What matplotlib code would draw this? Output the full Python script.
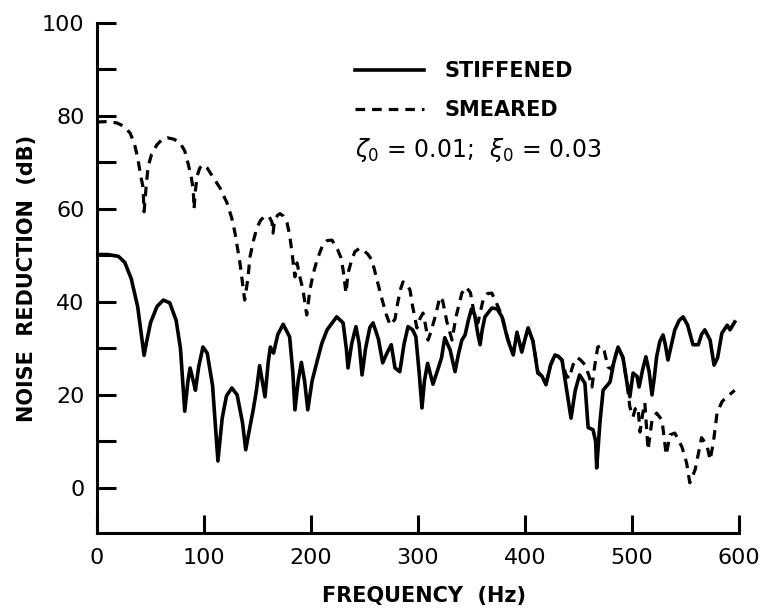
import matplotlib
matplotlib.use("Agg")
import matplotlib.pyplot as plt
from matplotlib.lines import Line2D

# ---- data ----
stiff_f = [0, 10, 20, 26, 32, 38, 42, 44, 46, 50, 56, 62, 68, 74, 78, 82, 85, 87, 90, 92, 95, 99, 103, 108,
           113, 117, 121, 126, 131, 136, 139, 142, 146, 149, 152, 157, 160, 162, 165, 169, 174, 180, 183, 185,
           188, 191, 194, 197, 201, 206, 210, 215, 224, 230, 233, 234.6, 238, 242, 245, 247.7, 251, 255, 258,
           263, 267, 271, 275, 278.5, 283, 287, 290.7, 295, 298, 301, 303.7, 306, 309, 314, 319, 322, 325, 330,
           334.6, 338, 341, 344, 347, 350, 353, 356, 358, 360, 362.6, 369, 374, 378.5, 384, 389, 392.5, 397,
           400, 403, 407.5, 412, 416, 419.6, 424, 428, 431, 434.6, 439, 443, 447, 451, 456, 459, 463.6, 466,
           467, 470, 473, 479.5, 483, 487, 491.6, 495, 498, 501, 504.7, 506.6, 510, 513, 516, 518.7, 521, 523,
           526, 529, 531, 533.6, 537, 540, 544, 547.7, 552, 557, 562, 565, 568, 573, 576.7, 580, 584, 589,
           591.6, 596]
stiff_db = [50.2, 50.2, 49.8, 48.5, 45, 39, 32, 28.5, 31, 35.5, 39, 40.4, 39.8, 36, 30, 16.5, 23, 25.8, 23, 21,
            26, 30.3, 29, 22, 5.8, 15, 19.8, 21.5, 20, 14, 8.2, 12, 16.8, 21, 26.3, 19.6, 27, 30.3, 29, 33, 35.2,
            32.5, 25, 16.8, 23, 27, 23, 16.8, 23, 27.5, 31, 34, 36.8, 35.5, 30, 25.8, 31, 34.7, 31, 24.3, 30,
            34.5, 35.5, 32, 26.9, 29, 30.8, 25.8, 25, 31, 34.7, 34, 32.5, 25, 17.2, 23, 26.8, 22.3, 25.8, 28,
            32.3, 29.7, 25, 29, 31.8, 32.9, 36, 38.5, 37.2, 33, 30.8, 34, 36.8, 38.7, 38.5, 36.8, 31.8, 28.6,
            33.5, 29.2, 32, 34.4, 31.5, 24.7, 24, 22.2, 26.5, 28.6, 28.3, 27.5, 21, 15, 21, 24.3, 22.5, 13,
            12.5, 10, 4.3, 14, 21, 22.8, 27, 30.3, 28, 23, 19.6, 24.7, 24, 21.7, 25.5, 28.2, 25, 20, 24, 28.2,
            31.5, 32.9, 31, 27.5, 31, 34, 36, 36.8, 35, 30.8, 30.8, 33, 34, 31.8, 26.4, 28, 33.3, 35, 34, 35.7]

smear_f = [0, 10, 18.7, 25, 31, 35, 38, 41, 43, 44, 46, 47.7, 51, 56, 61, 66, 72, 77.6, 82, 85, 88, 90, 90.7,
           92, 93.5, 96, 99, 103, 108, 115, 121.5, 126, 129, 133.6, 138, 141, 143, 146, 149.5, 153, 157, 161,
           163.5, 164.5, 166, 169, 171, 174, 177.6, 180, 182, 185, 187, 189, 192.5, 196, 199, 202, 205.6, 211,
           215, 219.6, 225, 228, 230, 232.7, 234.6, 238, 241, 245, 248.6, 253, 257, 261.7, 266, 270, 274,
           278.5, 281, 284, 286, 289, 292.5, 295, 299, 302, 304.7, 307, 309.4, 312, 316, 320.5, 323, 327,
           331.8, 335.5, 341, 345, 349, 353, 356, 360.8, 365, 369, 374, 378.5, 384, 389, 392.5, 397, 400, 403,
           407.5, 412, 416, 419.6, 424, 428, 431, 434.6, 438, 441, 445, 449, 452, 456, 460, 462.6, 465, 468,
           471, 474, 477.6, 481, 484, 487, 491.6, 495, 498, 501, 503, 505.6, 507.5, 510, 512, 515, 518.7, 523,
           528, 532, 535.5, 540, 546.7, 551, 554, 559, 565, 570, 573, 576, 579.5, 584, 588, 593, 596]
smear_db = [78.7, 78.8, 78.5, 77.8, 76.3, 74, 71, 67, 64.7, 59.4, 65, 69, 71.8, 73.8, 75, 75.3, 75, 74.2, 72.5,
            69.9, 67, 64, 60, 64, 67, 68.8, 69.5, 68.8, 67, 64.5, 61.3, 58, 54.8, 48.4, 40.4, 45, 49.7, 53, 56,
            57.6, 58.5, 58.3, 57.2, 54.8, 57.6, 58.7, 59, 58.5, 57, 54.5, 51, 45.4, 48.4, 46, 42.6, 37.2, 42.6,
            46, 49, 52.3, 53.2, 53.3, 51.2, 49.5, 46.9, 41.9, 46.2, 49, 50.8, 51.5, 51.2, 50.3, 49, 44.7, 40.9,
            37.5, 35, 36.3, 39.8, 43, 44.3, 44, 42.6, 39, 34.4, 36.5, 37.6, 35, 31.8, 33.5, 36.8, 41.1, 40.3,
            35.7, 31.8, 36.8, 41.9, 43.2, 42, 36.8, 35.5, 40.4, 41.8, 41.9, 39.4, 37, 32, 29, 33, 30, 32, 34.4,
            31.5, 25, 24, 22.5, 26.5, 28.6, 28.3, 27.5, 24.5, 23.5, 26.5, 28, 27.5, 26.5, 24, 21.7, 26, 30.3,
            30.6, 29.5, 26, 25.5, 28, 30.3, 28, 23, 17.4, 15.3, 17, 17.4, 12, 16, 18.3, 8.2, 14.6, 16.1, 14.6,
            7.1, 11.4, 11.8, 8.8, 5.4, 1.1, 3.9, 10.8, 9.2, 6, 9.7, 16.1, 18.5, 19.5, 20.4, 21]

x_ticks = [0, 100, 200, 300, 400, 500, 600]
y_major = [0, 20, 40, 60, 80, 100]
y_minor = [10, 30, 50, 70, 90]
labels = ["STIFFENED", "SMEARED"]
note = r"$\zeta_0$ = 0.01;  $\xi_0$ = 0.03"

plt.rcParams['mathtext.fontset'] = 'dejavusans'
fig = plt.figure(figsize=(7.66, 6.10), dpi=100)
ax = fig.add_axes([97/766, 77/610, 642/766, 510/610])

ax.plot(stiff_f, stiff_db, color='black', lw=2.6, solid_joinstyle='round')
ax.plot(smear_f, smear_db, color='black', lw=2.3, dashes=(3, 2.2))

ax.set_xlim(0, 600)
ax.set_ylim(-9.7, 100)
for s in ['top', 'right']:
    ax.spines[s].set_visible(False)
for s in ['left', 'bottom']:
    ax.spines[s].set_linewidth(2.2)

ax.set_xticks(x_ticks)
ax.set_yticks(y_major)
ax.set_yticks(y_minor, minor=True)
ax.tick_params(axis='both', which='both', direction='in', width=2.2, labelsize=16)
ax.tick_params(axis='y', which='both', length=14, pad=9)
ax.tick_params(axis='x', which='both', length=13, pad=11)

ax.set_xlabel("FREQUENCY  (Hz)", fontsize=15, fontweight='bold')
ax.xaxis.set_label_coords(0.51, -0.103)
ax.set_ylabel("NOISE  REDUCTION  (dB)", fontsize=15, fontweight='bold')
ax.yaxis.set_label_coords(-0.093, 0.5)

handles = [Line2D([], [], color='black', lw=2.6),
           Line2D([], [], color='black', lw=2.3, dashes=(3, 2.2))]
ax.legend(handles, labels, loc='upper left', bbox_to_anchor=(0.402, 0.925), frameon=False,
          prop={'size': 15, 'weight': 'bold'}, handlelength=3.3, handletextpad=1.0,
          labelspacing=0.9, borderpad=0, borderaxespad=0)
ax.text(0.402, 0.751, note, transform=ax.transAxes, fontsize=17, va='center', ha='left')

fig.savefig("out.png", dpi=100)
